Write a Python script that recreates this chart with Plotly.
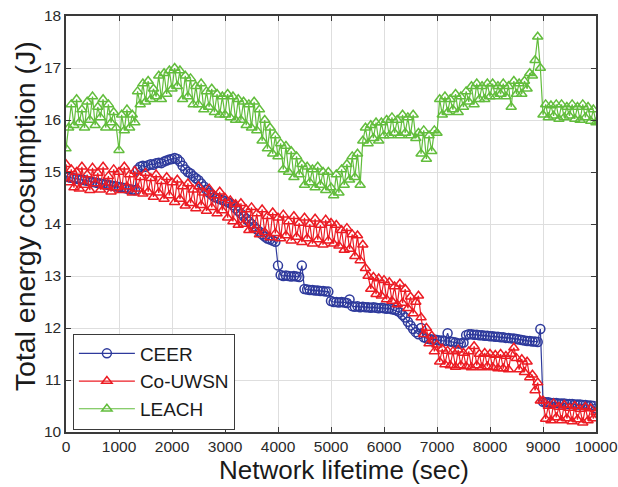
import plotly.graph_objects as go

# sample times (sec), one every 50 s
time_sec = list(range(0, 10001, 50))

ceer = [
    14.92, 14.90, 14.89, 14.88, 14.87, 14.86, 14.85, 14.84, 14.83, 14.82, 14.81, 14.80, 14.79, 14.78, 14.77, 14.76, 14.75, 14.74, 14.73, 14.72,
    14.71, 14.70, 14.69, 14.68, 14.67, 14.66, 14.65, 15.05, 15.10, 15.12, 15.10, 15.13, 15.15, 15.14, 15.17, 15.18, 15.17, 15.20, 15.22, 15.24,
    15.25, 15.27, 15.25, 15.20, 15.12, 15.05, 15.00, 14.97, 14.92, 14.88, 14.84, 14.78, 14.72, 14.66, 14.60, 14.56, 14.52, 14.50, 14.48, 14.46,
    14.44, 14.42, 14.40, 14.36, 14.30, 14.25, 14.20, 14.15, 14.10, 14.05, 14.00, 13.95, 13.90, 13.85, 13.80, 13.76, 13.72, 13.70, 13.68, 13.66,
    13.20, 13.02, 13.00, 13.01, 13.00, 12.99, 13.00, 12.99, 12.98, 13.20, 12.75, 12.74, 12.73, 12.73, 12.72, 12.72, 12.71, 12.71, 12.70, 12.70,
    12.52, 12.50, 12.50, 12.49, 12.50, 12.49, 12.48, 12.55, 12.42, 12.41, 12.42, 12.40, 12.41, 12.40, 12.40, 12.39, 12.40, 12.39, 12.38, 12.39,
    12.38, 12.37, 12.38, 12.36, 12.35, 12.33, 12.30, 12.25, 12.20, 12.12, 12.05, 11.98, 11.92, 11.88, 12.00, 11.82, 11.80, 11.79, 11.78, 11.78,
    11.77, 11.76, 11.76, 11.75, 11.90, 11.74, 11.73, 11.72, 11.70, 11.70, 11.72, 11.86, 11.88, 11.88, 11.87, 11.87, 11.86, 11.86, 11.85, 11.85,
    11.84, 11.84, 11.83, 11.83, 11.82, 11.82, 11.81, 11.81, 11.80, 11.80, 11.79, 11.78, 11.77, 11.76, 11.75, 11.75, 11.74, 11.74, 11.73, 11.98,
    10.58, 10.57, 10.57, 10.56, 10.56, 10.56, 10.55, 10.55, 10.55, 10.54, 10.54, 10.54, 10.53, 10.53, 10.53, 10.52, 10.52, 10.51, 10.51, 10.50,
    10.45,
]

co_uwsn = [
    15.15, 14.80, 15.05, 14.70, 15.00, 14.68, 15.10, 14.75, 14.95, 14.65, 15.08, 14.78, 14.98, 14.66, 15.10, 14.72, 14.92, 14.62, 15.05, 14.70,
    15.00, 14.65, 15.10, 14.72, 14.95, 14.60, 15.02, 14.68, 14.90, 14.58, 14.98, 14.62, 14.88, 14.52, 14.95, 14.60, 14.82, 14.48, 14.90, 14.55,
    14.80, 14.42, 14.85, 14.48, 14.72, 14.35, 14.78, 14.40, 14.66, 14.30, 14.72, 14.36, 14.60, 14.25, 14.68, 14.32, 14.55, 14.20, 14.62, 14.26,
    14.50, 14.12, 14.45, 14.05, 14.38, 13.98, 14.40, 14.00, 14.28, 13.88, 14.32, 13.90, 14.20, 13.80, 14.28, 13.84, 14.15, 13.74, 14.22, 13.82,
    14.12, 13.72, 14.18, 13.78, 14.05, 13.68, 14.15, 13.75, 14.02, 13.65, 14.12, 13.72, 14.00, 13.62, 14.10, 13.70, 13.98, 13.60, 14.08, 13.68,
    14.02, 13.62, 13.98, 13.58, 13.88, 13.50, 13.92, 13.52, 13.80, 13.38, 13.78, 13.30, 13.60, 13.15, 13.00, 12.75, 12.98, 12.65, 12.95, 12.62,
    12.92, 12.55, 12.88, 12.52, 12.80, 12.45, 12.85, 12.48, 12.75, 12.38, 12.60, 12.28, 12.50, 12.62, 12.20, 11.88, 12.00, 11.70, 11.85, 11.55,
    11.68, 11.35, 11.60, 11.30, 11.56, 11.28, 11.55, 11.25, 11.58, 11.28, 11.52, 11.26, 11.55, 11.24, 11.65, 11.28, 11.50, 11.24, 11.52, 11.26,
    11.50, 11.24, 11.48, 11.22, 11.50, 11.22, 11.46, 11.20, 11.50, 11.62, 11.42, 11.20, 11.40, 11.15, 11.35, 11.05, 11.10, 10.80, 10.95, 10.60,
    10.60, 10.25, 10.50, 10.22, 10.55, 10.28, 10.48, 10.22, 10.52, 10.26, 10.46, 10.20, 10.50, 10.24, 10.44, 10.18, 10.48, 10.22, 10.45, 10.26,
    10.38,
]

leach = [
    15.45, 15.85, 16.30, 15.90, 16.40, 15.95, 16.20, 15.85, 16.35, 16.00, 16.45, 15.90, 16.25, 16.05, 16.40, 15.85, 16.30, 15.95, 16.15, 15.85,
    15.42, 16.10, 15.80, 16.20, 15.85, 16.10, 15.95, 16.55, 16.30, 16.70, 16.35, 16.75, 16.40, 16.60, 16.45, 16.85, 16.40, 16.90, 16.50, 16.95,
    16.60, 17.00, 16.65, 16.95, 16.40, 16.85, 16.45, 16.80, 16.30, 16.65, 16.30, 16.70, 16.20, 16.55, 16.25, 16.60, 16.15, 16.50, 16.10, 16.45,
    16.10, 16.50, 16.05, 16.45, 16.00, 16.40, 16.00, 16.35, 15.90, 16.30, 15.85, 16.35, 15.80, 16.20, 15.60, 16.00, 15.45, 15.85, 15.35, 15.70,
    15.30, 15.55, 15.05, 15.50, 15.00, 15.40, 14.90, 15.30, 14.95, 15.15, 14.75, 15.10, 14.80, 15.05, 14.70, 15.10, 14.75, 15.00, 14.65, 15.00,
    14.70, 14.55, 14.95, 14.60, 15.05, 14.75, 15.15, 14.85, 15.30, 14.90, 15.35, 14.75, 15.60, 15.85, 15.55, 15.90, 15.65, 15.95, 15.60, 15.95,
    15.70, 16.00, 15.70, 16.05, 15.75, 16.00, 15.70, 16.10, 15.75, 16.05, 15.70, 16.10, 15.65, 15.75, 15.35, 15.80, 15.25, 15.70, 15.40, 15.80,
    15.75, 16.40, 16.10, 16.45, 16.15, 16.40, 16.20, 16.50, 16.15, 16.45, 16.25, 16.55, 16.35, 16.65, 16.30, 16.70, 16.40, 16.65, 16.40, 16.70,
    16.45, 16.70, 16.45, 16.65, 16.50, 16.70, 16.45, 16.65, 16.25, 16.75, 16.50, 16.70, 16.50, 16.75, 16.60, 16.90, 16.85, 17.15, 17.60, 17.00,
    16.10, 16.30, 16.05, 16.28, 16.08, 16.30, 16.02, 16.30, 16.05, 16.25, 16.08, 16.30, 16.02, 16.25, 16.00, 16.30, 16.05, 16.25, 15.98, 16.20,
    15.95,
]

series = [
    ("CEER", ceer, "#2e3a9c", "circle-open"),
    ("Co-UWSN", co_uwsn, "#ec1c24", "triangle-up-open"),
    ("LEACH", leach, "#62bd3c", "triangle-up-open"),
]

fig = go.Figure()
for name, vals, col, sym in series:
    fig.add_trace(go.Scatter(
        x=time_sec, y=vals, name=name, mode="lines+markers",
        line=dict(color=col, width=1.2),
        marker=dict(symbol=sym, size=9, color=col, line=dict(width=1.5)),
    ))

axis_style = dict(
    showline=True, linecolor="#3a3a3a", linewidth=1.5, mirror="ticks",
    ticks="inside", ticklen=5, tickcolor="#3a3a3a",
    showgrid=True, gridcolor="#dedede", gridwidth=1, zeroline=False,
    tickfont=dict(size=15.5, color="#2a2a2a"), automargin=False,
    ticklabeloverflow="allow",
)

fig.update_xaxes(range=[0, 10000], dtick=1000, tickformat="d", **axis_style)
fig.update_yaxes(range=[10, 18], dtick=1, **axis_style)

# axis titles as annotations so they sit where the original has them
fig.add_annotation(text="Network lifetime (sec)", xref="paper", yref="paper",
                   x=0.525, y=-0.091, xanchor="center", yanchor="middle",
                   showarrow=False, font=dict(size=26, color="#1a1a1a"))
fig.add_annotation(text="Total energy cosumption (J)", xref="paper", yref="paper",
                   x=-0.077, y=0.519, xanchor="center", yanchor="middle", textangle=-90,
                   showarrow=False, font=dict(size=28.5, color="#1a1a1a"))

fig.update_layout(
    width=618, height=487,
    margin=dict(l=66, r=22, t=16, b=55),
    plot_bgcolor="white", paper_bgcolor="white",
    font=dict(family="Liberation Sans, Arial, sans-serif"),
    legend=dict(
        x=0.013, y=0.006, xanchor="left", yanchor="bottom",
        bgcolor="white", bordercolor="#3a3a3a", borderwidth=1,
        font=dict(size=19, color="#1a1a1a"), itemwidth=56,
        tracegroupgap=0,
    ),
)

# drop the default page margin so the figure fills the window exactly
fig.write_html("out.html", config={"displayModeBar": False},
               post_script="document.body.style.margin='0';document.body.style.overflow='hidden';")
